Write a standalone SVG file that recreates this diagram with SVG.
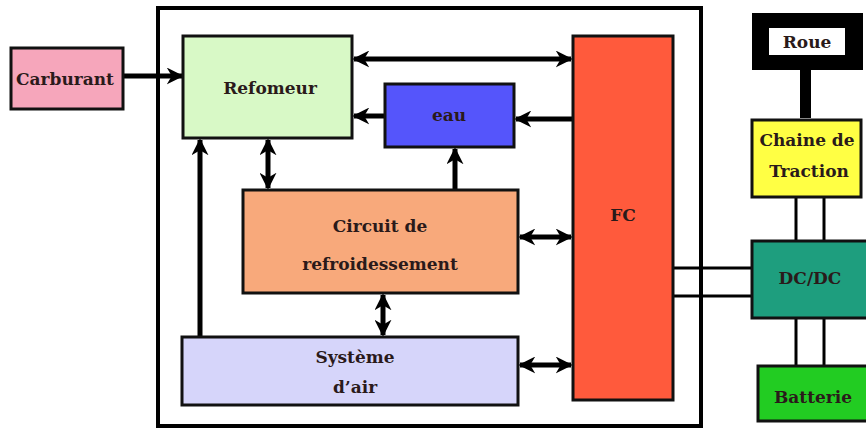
<svg xmlns="http://www.w3.org/2000/svg" width="866" height="431" viewBox="0 0 866 431">
<style>
.box{stroke:#111;stroke-width:3}
.t{font-family:"DejaVu Serif","Liberation Serif",serif;font-weight:bold;font-size:17px;fill:#2a1a1a;text-anchor:middle}
.a{stroke:#000;stroke-width:5;fill:none}
.l{stroke:#000;stroke-width:3;fill:none}
</style>
<defs>
<marker id="ah" viewBox="0 0 10 10" refX="9" refY="5" markerWidth="3.4" markerHeight="3.4" orient="auto-start-reverse" markerUnits="strokeWidth">
<path d="M0,0 L10,5 L0,10 L3,5 Z" fill="#000"/>
</marker>
</defs>
<rect x="0" y="0" width="866" height="431" fill="#fff"/>
<rect id="frame" x="158" y="8" width="543" height="418" fill="none" stroke="#000" stroke-width="4"/>
<g id="connectors">
<line class="a" x1="123" y1="76" x2="182" y2="76" marker-end="url(#ah)"/>
<line class="a" x1="354" y1="59" x2="571" y2="59" marker-start="url(#ah)" marker-end="url(#ah)"/>
<line class="a" x1="573" y1="119" x2="516" y2="119" marker-end="url(#ah)"/>
<line class="a" x1="385" y1="116" x2="354" y2="116" marker-end="url(#ah)"/>
<line class="a" x1="455" y1="189" x2="455" y2="149" marker-end="url(#ah)"/>
<line class="a" x1="268" y1="140" x2="268" y2="188" marker-start="url(#ah)" marker-end="url(#ah)"/>
<line class="a" x1="520" y1="237" x2="571" y2="237" marker-start="url(#ah)" marker-end="url(#ah)"/>
<line class="a" x1="383" y1="295" x2="383" y2="335" marker-start="url(#ah)" marker-end="url(#ah)"/>
<line class="a" x1="520" y1="365" x2="571" y2="365" marker-start="url(#ah)" marker-end="url(#ah)"/>
<line class="a" x1="200" y1="337" x2="200" y2="140" marker-end="url(#ah)"/>
<rect x="800" y="68" width="11" height="50" fill="#000"/>
<line class="l" x1="796" y1="197" x2="796" y2="241"/>
<line class="l" x1="824" y1="197" x2="824" y2="241"/>
<line class="l" x1="796" y1="318" x2="796" y2="366"/>
<line class="l" x1="824" y1="318" x2="824" y2="366"/>
<line class="l" x1="673" y1="268" x2="752" y2="268"/>
<line class="l" x1="673" y1="296" x2="752" y2="296"/>
</g>
<g id="carburant"><rect class="box" x="11" y="48" width="112" height="61" fill="#f6a6bb"/><text class="t" x="65" y="85">Carburant</text></g>
<g id="refomeur"><rect class="box" x="183" y="36" width="169" height="102" fill="#d8f9c6"/><text class="t" x="270" y="94">Refomeur</text></g>
<g id="eau"><rect class="box" x="385" y="84" width="129" height="63" fill="#5555fb"/><text class="t" x="449" y="121" fill="#222">eau</text></g>
<g id="fc"><rect class="box" x="573" y="36" width="100" height="364" fill="#ff5a3c"/><text class="t" x="623" y="221">FC</text></g>
<g id="circuit"><rect class="box" x="243" y="190" width="275" height="103" fill="#f8a97b"/><text class="t" x="380" y="232">Circuit de</text><text class="t" x="380" y="270">refroidessement</text></g>
<g id="systeme"><rect class="box" x="182" y="337" width="336" height="68" fill="#d6d5fa"/><text class="t" x="355" y="363">Système</text><text class="t" x="355" y="393">d’air</text></g>
<g id="roue"><rect x="752" y="13" width="111" height="57" fill="#000"/><rect x="769" y="28" width="76" height="27" fill="#fff"/><text class="t" x="807" y="48">Roue</text></g>
<g id="chaine"><rect class="box" x="752" y="120" width="109" height="77" fill="#ffff44"/><text class="t" x="807" y="146">Chaine de</text><text class="t" x="809" y="177">Traction</text></g>
<g id="dcdc"><rect class="box" x="752" y="241" width="116" height="77" fill="#1e9e7e"/><text class="t" x="810" y="284">DC/DC</text></g>
<g id="batterie"><rect class="box" x="758" y="366" width="110" height="55" fill="#22cc22"/><text class="t" x="813" y="403">Batterie</text></g>
</svg>
